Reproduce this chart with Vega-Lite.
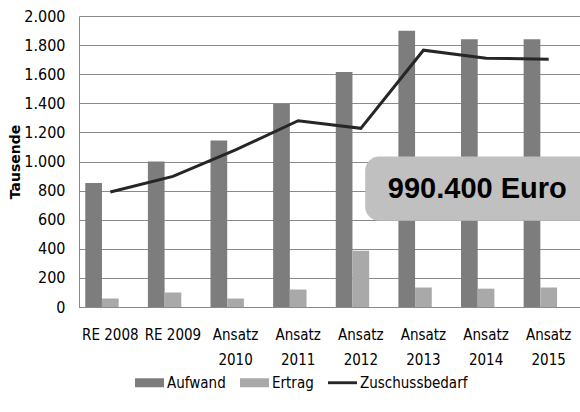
{
  "$schema": "https://vega.github.io/schema/vega-lite/v6.json",
  "width": 501,
  "height": 291,
  "autosize": "none",
  "padding": {"left": 79, "top": 16, "right": 0, "bottom": 105},
  "background": "white",
  "config": {
    "locale": {"number": {"decimal": ",", "thousands": ".", "grouping": [3], "currency": ["", " €"]}},
    "view": {"stroke": null},
    "font": "'DejaVu Sans Condensed', Roboto",
    "axisY": {
      "titleFont": "DejaVu Sans", "titleFontWeight": "bold", "titleFontSize": 14,
      "titleColor": "black", "titlePadding": 1, "labelFont": "'DejaVu Sans Condensed', Roboto", "labelFontSize": 16,
      "labelColor": "black", "labelPadding": 14, "ticks": false, "format": ",d", "labelOverlap": false,
      "tickCount": 10, "grid": true, "gridColor": "#8a8a8a", "domainColor": "#8a8a8a"
    }
  },
  "layer": [
    {
      "data": {"values": [
        {"cat": "RE 2008", "series": "Aufwand", "value": 852},
        {"cat": "RE 2008", "series": "Ertrag", "value": 59},
        {"cat": "RE 2008", "series": "Zuschussbedarf", "value": 790},
        {"cat": "RE 2009", "series": "Aufwand", "value": 1000},
        {"cat": "RE 2009", "series": "Ertrag", "value": 100},
        {"cat": "RE 2009", "series": "Zuschussbedarf", "value": 898},
        {"cat": "Ansatz 2010", "series": "Aufwand", "value": 1145},
        {"cat": "Ansatz 2010", "series": "Ertrag", "value": 58},
        {"cat": "Ansatz 2010", "series": "Zuschussbedarf", "value": 1080},
        {"cat": "Ansatz 2011", "series": "Aufwand", "value": 1395},
        {"cat": "Ansatz 2011", "series": "Ertrag", "value": 120},
        {"cat": "Ansatz 2011", "series": "Zuschussbedarf", "value": 1280},
        {"cat": "Ansatz 2012", "series": "Aufwand", "value": 1615},
        {"cat": "Ansatz 2012", "series": "Ertrag", "value": 387},
        {"cat": "Ansatz 2012", "series": "Zuschussbedarf", "value": 1228},
        {"cat": "Ansatz 2013", "series": "Aufwand", "value": 1898},
        {"cat": "Ansatz 2013", "series": "Ertrag", "value": 134},
        {"cat": "Ansatz 2013", "series": "Zuschussbedarf", "value": 1765},
        {"cat": "Ansatz 2014", "series": "Aufwand", "value": 1840},
        {"cat": "Ansatz 2014", "series": "Ertrag", "value": 126},
        {"cat": "Ansatz 2014", "series": "Zuschussbedarf", "value": 1710},
        {"cat": "Ansatz 2015", "series": "Aufwand", "value": 1840},
        {"cat": "Ansatz 2015", "series": "Ertrag", "value": 134},
        {"cat": "Ansatz 2015", "series": "Zuschussbedarf", "value": 1703}
      ]},
      "encoding": {
        "x": {
          "field": "cat", "type": "nominal",
          "sort": ["RE 2008", "RE 2009", "Ansatz 2010", "Ansatz 2011", "Ansatz 2012", "Ansatz 2013", "Ansatz 2014", "Ansatz 2015"],
          "scale": {"paddingInner": 0.2, "paddingOuter": 0.1},
          "axis": {
            "title": null, "labelAngle": 0, "labelFont": "'DejaVu Sans Condensed', Roboto", "labelFontSize": 15,
            "labelColor": "black", "ticks": false, "domainColor": "#8a8a8a", "labelPadding": 20,
            "labelBaseline": "top", "labelLineHeight": 25, "grid": false, "labelOverlap": false,
            "labelExpr": "indexof(datum.label,'Ansatz')==0 ? split(datum.label,' ') : datum.label"
          }
        },
        "y": {
          "field": "value", "type": "quantitative",
          "scale": {"domain": [0, 2000]},
          "title": "Tausende"
        },
        "color": {
          "field": "series", "type": "nominal",
          "scale": {"domain": ["Aufwand", "Ertrag", "Zuschussbedarf"], "range": ["#7d7d7d", "#a9a9a9", "#262626"]},
          "legend": {
            "orient": "none", "legendX": 56, "legendY": 352, "direction": "horizontal", "title": null,
            "labelFont": "'DejaVu Sans Condensed', Roboto", "labelFontSize": 15, "labelColor": "black",
            "symbolSize": 841, "columnPadding": 14, "labelOffset": 3,
            "symbolType": "M-1,-0.31H1V0.31H-1Z",
            "encode": {"symbols": {"update": {
              "shape": {"signal": "datum.value === 'Zuschussbedarf' ? 'M-1,-0.1H1V0.1H-1Z' : 'M-1,-0.31H1V0.31H-1Z'"},
              "fill": {"signal": "scale('color', datum.value)"},
              "strokeWidth": {"value": 0},
              "opacity": {"value": 1}
            }}}
          }
        }
      },
      "layer": [
        {
          "mark": {"type": "bar"},
          "transform": [{"filter": "datum.series !== 'Zuschussbedarf'"}],
          "encoding": {
            "xOffset": {"field": "series", "scale": {"domain": ["Aufwand", "Ertrag", "leer"], "paddingInner": 0, "paddingOuter": 0}}
          }
        },
        {
          "mark": {"type": "line", "strokeWidth": 3},
          "transform": [{"filter": "datum.series === 'Zuschussbedarf'"}],
          "encoding": {}
        }
      ]
    },
    {
      "data": {"values": [{"label": "990.400 Euro", "x1": 4.57, "x2": 8.4, "y1": 1035, "y2": 593, "xt": 6.36, "yt": 813}]},
      "layer": [
        {
          "mark": {"type": "rect", "cornerRadius": 14, "fill": "#c0c0c0", "clip": true},
          "encoding": {
            "x": {"field": "x1", "type": "quantitative", "scale": {"domain": [0, 8]}, "axis": null},
            "x2": {"field": "x2"},
            "y": {"field": "y1", "type": "quantitative", "title": "Tausende"},
            "y2": {"field": "y2"}
          }
        },
        {
          "mark": {"type": "text", "font": "Liberation Sans", "fontWeight": "bold", "fontSize": 29, "color": "black", "align": "center", "baseline": "middle"},
          "encoding": {
            "x": {"field": "xt", "type": "quantitative", "scale": {"domain": [0, 8]}, "axis": null},
            "y": {"field": "yt", "type": "quantitative", "title": "Tausende"},
            "text": {"field": "label"}
          }
        }
      ]
    }
  ],
  "resolve": {"scale": {"x": "independent"}}
}
